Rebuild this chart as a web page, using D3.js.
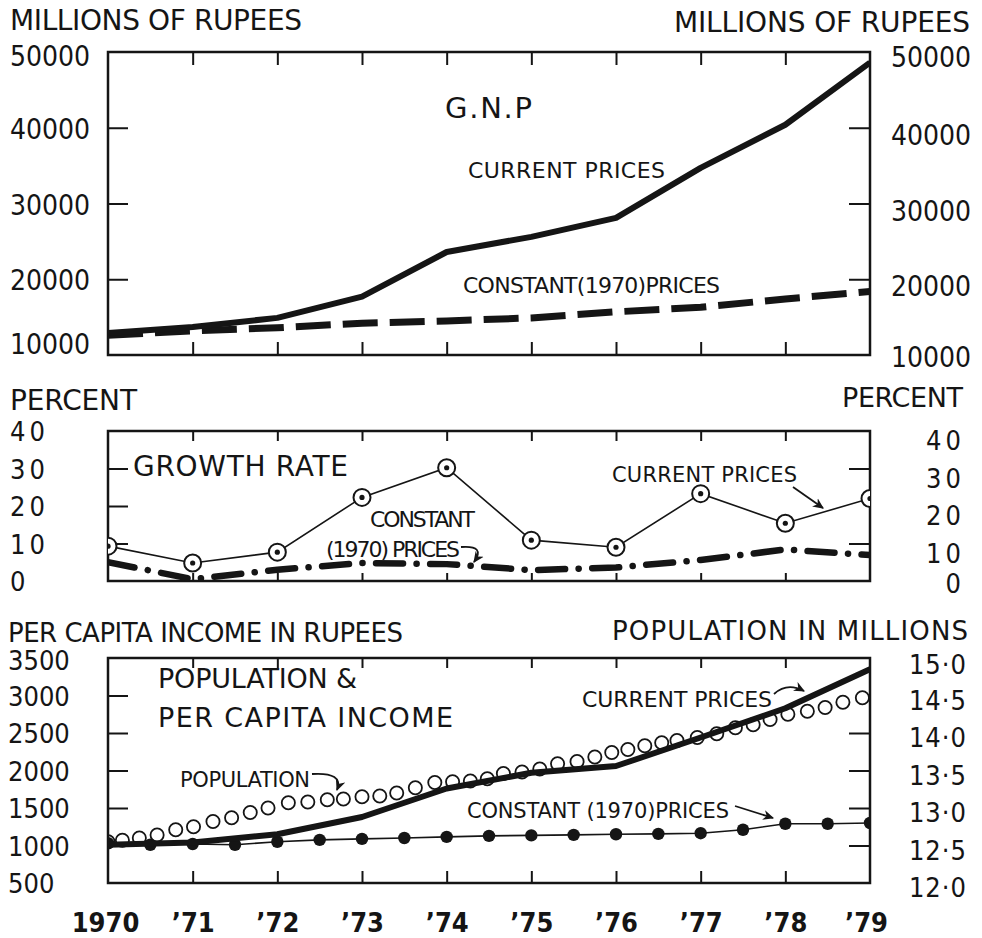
<!DOCTYPE html>
<html>
<head>
<meta charset="utf-8">
<script src="https://cdn.jsdelivr.net/npm/d3@7"></script>
<style>
  body { margin: 0; background: #fff; }
  svg { display: block; font-family: "DejaVu Sans", sans-serif; }
  .num { font-family: "DejaVu Sans Condensed", "DejaVu Sans", sans-serif; font-stretch: condensed; }
</style>
</head>
<body>
<svg id="chart" width="982" height="938"></svg>
<script>
// ── data ────────────────────────────────────────────
const years = [1970, 1971, 1972, 1973, 1974, 1975, 1976, 1977, 1978, 1979];
const yearLabels = ['1970', '’71', '’72', '’73', '’74', '’75', '’76', '’77', '’78', '’79'];

// G.N.P, millions of rupees
const gnpCurrent  = [12900, 13700, 14900, 17700, 23600, 25600, 28100, 34700, 40400, 48600];
const gnpConstant = [12600, 13200, 13600, 14200, 14500, 14900, 15700, 16300, 17400, 18400];
const gnpTicks = [10000, 20000, 30000, 40000, 50000];

// growth rate, percent
const growthCurrent  = [9.3, 4.8, 7.7, 22.3, 30.2, 10.9, 9.0, 23.3, 15.4, 22.0];
const growthConstant = [5.0, 0.5, 3.0, 4.8, 4.5, 2.9, 3.6, 5.6, 8.4, 6.9];
const growthTicks = [0, 10, 20, 30, 40];

// per capita income, rupees
const incomeCurrent = [1010, 1040, 1150, 1380, 1760, 1970, 2060, 2440, 2830, 3350];
const halfYears = [1970, 1970.5, 1971, 1971.5, 1972, 1972.5, 1973, 1973.5, 1974, 1974.5,
                   1975, 1975.5, 1976, 1976.5, 1977, 1977.5, 1978, 1978.5, 1979];
const incomeConstant = [1030, 1010, 1020, 1010, 1050, 1075, 1088, 1100, 1115, 1128,
                        1135, 1142, 1150, 1155, 1164, 1210, 1290, 1290, 1300];
const incomeTicks = [500, 1000, 1500, 2000, 2500, 3000, 3500];

// population, millions
const popYears = [1970.00, 1970.17, 1970.37, 1970.58, 1970.80, 1971.01, 1971.24, 1971.46, 1971.68, 1971.89,
                  1972.13, 1972.36, 1972.59, 1972.78, 1973.00, 1973.21, 1973.41, 1973.63, 1973.86, 1974.07,
                  1974.28, 1974.48, 1974.67, 1974.89, 1975.10, 1975.31, 1975.54, 1975.75, 1975.95, 1976.14,
                  1976.34, 1976.54, 1976.72, 1976.96, 1977.19, 1977.41, 1977.62, 1977.82, 1978.03, 1978.26,
                  1978.47, 1978.68, 1978.91];
const popValues = [12.55, 12.57, 12.60, 12.64, 12.71, 12.75, 12.82, 12.87, 12.94, 13.00,
                   13.07, 13.08, 13.11, 13.12, 13.15, 13.16, 13.20, 13.27, 13.34, 13.35,
                   13.36, 13.39, 13.46, 13.48, 13.52, 13.59, 13.62, 13.68, 13.74, 13.78,
                   13.83, 13.87, 13.90, 13.94, 13.99, 14.07, 14.11, 14.18, 14.25, 14.29,
                   14.34, 14.41, 14.47];
const popTicks = [12.0, 12.5, 13.0, 13.5, 14.0, 14.5, 15.0];

// ── setup ────────────────────────────────────────────
const INK = '#151515';
const svg = d3.select('#chart');

const x = d3.scaleLinear().domain([1970, 1979]).range([108, 870]);
const yGnp = d3.scaleLinear().domain([10000, 50000]).range([355, 52]);
const yGrowth = d3.scaleLinear().domain([0, 40]).range([581, 431]);
const yInc = d3.scaleLinear().domain([500, 3500]).range([883, 658]);
const yPop = d3.scaleLinear().domain([12, 15]).range([883, 658]);

const defs = svg.append('defs');
defs.append('marker')
  .attr('id', 'arrow')
  .attr('viewBox', '0 0 10 10')
  .attr('refX', 9).attr('refY', 5)
  .attr('markerWidth', 11).attr('markerHeight', 11)
  .attr('markerUnits', 'userSpaceOnUse')
  .attr('orient', 'auto')
  .append('path')
  .attr('d', 'M0,0.5 L10,5 L0,9.5 L3,5 Z')
  .attr('fill', INK);

function txt(s, px, py, size, opts = {}) {
  const t = svg.append('text')
    .attr('x', px).attr('y', py)
    .attr('font-size', size)
    .attr('fill', INK)
    .attr('text-anchor', opts.anchor || 'start')
    .text(s);
  if (opts.len) t.attr('textLength', opts.len);
  if (opts.weight) t.attr('font-weight', opts.weight);
  if (opts.ls) t.attr('letter-spacing', opts.ls);
  return t;
}

// frame, inward ticks, clip for the marks
function panel(id, y, leftTicks, rightTicks, xTop, xBot) {
  const [y1, y0] = [y.range()[1], y.range()[0]];
  defs.append('clipPath').attr('id', id)
    .append('rect')
    .attr('x', x.range()[0]).attr('y', y1)
    .attr('width', x.range()[1] - x.range()[0]).attr('height', y0 - y1);

  const mid = years.slice(1, -1);
  const axes = [
    [d3.axisTop(x).tickValues(mid).tickSize(-xTop), `translate(0,${y1})`],
    [d3.axisBottom(x).tickValues(mid).tickSize(-xBot), `translate(0,${y0})`],
    [d3.axisLeft(y).tickValues(leftTicks).tickSize(-20), `translate(${x.range()[0]},0)`],
    [d3.axisRight(y).tickValues(rightTicks).tickSize(-21), `translate(${x.range()[1]},0)`],
  ];
  axes.forEach(([ax, tr]) => {
    const g = svg.append('g').attr('transform', tr).call(ax.tickFormat(''));
    g.select('.domain').remove();
    g.selectAll('line').attr('stroke', INK).attr('stroke-width', 2);
  });

  svg.append('rect')
    .attr('x', x.range()[0]).attr('y', y1)
    .attr('width', x.range()[1] - x.range()[0]).attr('height', y0 - y1)
    .attr('fill', 'none').attr('stroke', INK).attr('stroke-width', 2.5);

  return svg.append('g').attr('clip-path', `url(#${id})`);
}

// outer tick labels via d3 axes
function labels(axis, px, size, fmt, nudge, ls) {
  const g = svg.append('g')
    .attr('class', 'num')
    .attr('transform', `translate(${px},0)`)
    .call(axis.tickSize(0).tickPadding(0).tickFormat(fmt));
  g.attr('font-family', null).attr('font-size', size);
  g.select('.domain').remove();
  g.selectAll('text').attr('fill', INK)
    .attr('dy', null)
    .attr('y', d => nudge(d))
    .attr('dominant-baseline', 'central');
  if (ls) g.selectAll('text').attr('letter-spacing', ls);
  return g;
}

// ── G.N.P panel ──────────────────────────────────────
const gTop = panel('clipTop', yGnp, [20000, 30000, 40000], [20000, 30000, 40000], 13, 13);

gTop.append('path')
  .datum(gnpConstant)
  .attr('fill', 'none').attr('stroke', INK)
  .attr('stroke-width', 7).attr('stroke-dasharray', '35,12')
  .attr('d', d3.line().x((d, i) => x(years[i])).y(d => yGnp(d)));

gTop.append('path')
  .datum(gnpCurrent)
  .attr('fill', 'none').attr('stroke', INK)
  .attr('stroke-width', 6).attr('stroke-linejoin', 'round')
  .attr('d', d3.line().x((d, i) => x(years[i])).y(d => yGnp(d)));

txt('MILLIONS OF RUPEES', 10, 30, 28, { len: 292 });
txt('MILLIONS OF RUPEES', 970, 32, 28, { anchor: 'end', len: 296 });
labels(d3.axisRight(yGnp).tickValues(gnpTicks), 10, 28, d3.format('d'),
  d => d === 10000 ? -11 : d === 50000 ? 4 : 1);
labels(d3.axisLeft(yGnp).tickValues(gnpTicks), 971, 28, d3.format('d'),
  d => d === 50000 ? 5 : d === 10000 ? 2 : 7);

txt('G.N.P', 445, 118, 29, { len: 87 });
txt('CURRENT  PRICES', 468, 178, 22, { len: 197 });
txt('CONSTANT(1970)PRICES', 463, 293, 22, { len: 257 });

// ── growth rate panel ────────────────────────────────
const gMid = panel('clipMid', yGrowth, [10, 20, 30], [10, 30], 10, 8);

gMid.append('path')
  .datum(growthConstant)
  .attr('fill', 'none').attr('stroke', INK)
  .attr('stroke-width', 6.5).attr('stroke-linecap', 'round')
  .attr('stroke-dasharray', '27,13.5,0.1,13.5')
  .attr('d', d3.line().x((d, i) => x(years[i])).y(d => yGrowth(d)));

gMid.append('path')
  .datum(growthCurrent)
  .attr('fill', 'none').attr('stroke', INK).attr('stroke-width', 1.6)
  .attr('d', d3.line().x((d, i) => x(years[i])).y(d => yGrowth(d)));

gMid.selectAll('circle.ring')
  .data(growthCurrent)
  .join('circle')
  .attr('class', 'ring')
  .attr('cx', (d, i) => x(years[i])).attr('cy', d => yGrowth(d))
  .attr('r', 8.5).attr('fill', '#fff').attr('stroke', INK).attr('stroke-width', 2);

gMid.selectAll('circle.pip')
  .data(growthCurrent)
  .join('circle')
  .attr('class', 'pip')
  .attr('cx', (d, i) => x(years[i])).attr('cy', d => yGrowth(d))
  .attr('r', 2.6).attr('fill', INK);

txt('PERCENT', 10, 410, 28, { len: 127 });
txt('PERCENT', 963, 407, 27, { anchor: 'end', len: 121 });
labels(d3.axisRight(yGrowth).tickValues(growthTicks), 10, 27, d3.format('d'), d => 0, 4);
labels(d3.axisLeft(yGrowth).tickValues(growthTicks), 965, 27, d3.format('d'),
  d => d === 0 ? 2 : 9, 4);

txt('GROWTH RATE', 133, 476, 28, { len: 215 });
txt('CURRENT  PRICES', 612, 482, 21, { len: 185 });
txt('CONSTANT', 370, 527, 22, { len: 105 });
txt('(1970) PRICES', 326, 557, 22, { len: 134 });

svg.append('line')
  .attr('x1', 793).attr('y1', 487).attr('x2', 823).attr('y2', 508)
  .attr('stroke', INK).attr('stroke-width', 1.8).attr('marker-end', 'url(#arrow)');
svg.append('path')
  .attr('d', 'M461,547 Q486,545 474,562')
  .attr('fill', 'none').attr('stroke', INK).attr('stroke-width', 1.8)
  .attr('marker-end', 'url(#arrow)');

// ── population & per capita panel ────────────────────
const gBot = panel('clipBot', yInc, [1500, 2000, 2500, 3000], [12.5, 13.0, 13.5, 14.0].map(v => yInc.invert(yPop(v))), 10, 12);

gBot.append('path')
  .datum(incomeConstant)
  .attr('fill', 'none').attr('stroke', INK).attr('stroke-width', 1.6)
  .attr('d', d3.line().x((d, i) => x(halfYears[i])).y(d => yInc(d)));

gBot.selectAll('circle.dot')
  .data(incomeConstant)
  .join('circle')
  .attr('class', 'dot')
  .attr('cx', (d, i) => x(halfYears[i])).attr('cy', d => yInc(d))
  .attr('r', 6.2).attr('fill', INK);

gBot.selectAll('circle.pop')
  .data(popValues)
  .join('circle')
  .attr('class', 'pop')
  .attr('cx', (d, i) => x(popYears[i])).attr('cy', d => yPop(d))
  .attr('r', 6.6).attr('fill', 'none').attr('stroke', INK).attr('stroke-width', 1.8);

gBot.append('path')
  .datum(incomeCurrent)
  .attr('fill', 'none').attr('stroke', INK)
  .attr('stroke-width', 6).attr('stroke-linejoin', 'round')
  .attr('d', d3.line().x((d, i) => x(years[i])).y(d => yInc(d)));

txt('PER CAPITA INCOME IN RUPEES', 8, 642, 26, { len: 395 });
txt('POPULATION  IN  MILLIONS', 968, 640, 26, { anchor: 'end', len: 356 });
labels(d3.axisRight(yInc).tickValues(incomeTicks), 8, 27, d3.format('d'),
  d => d === 3500 ? 2 : 0);
labels(d3.axisLeft(yPop).tickValues(popTicks), 967, 27,
  d => d3.format('.1f')(d).replace('.', '·'), d => d === 15 ? 6 : 4, 1);

// year labels under the bottom panel
const xl = svg.append('g')
  .attr('class', 'num')
  .attr('transform', 'translate(0,922)')
  .call(d3.axisBottom(x).tickValues(years).tickSize(0).tickPadding(0)
    .tickFormat((d, i) => yearLabels[i]));
xl.attr('font-family', null).attr('font-size', 27).attr('font-weight', 'bold');
xl.select('.domain').remove();
xl.selectAll('text').attr('fill', INK).attr('dy', null).attr('y', 0)
  .attr('dominant-baseline', 'central')
  .attr('dx', d => d === 1970 ? -3 : d === 1979 ? -4 : 0);

txt('POPULATION &', 158, 688, 27, { len: 199 });
txt('PER CAPITA  INCOME', 158, 727, 27, { len: 295 });
txt('POPULATION', 180, 787, 21, { len: 130 });
txt('CURRENT  PRICES', 582, 707, 22, { len: 190 });
txt('CONSTANT (1970)PRICES', 467, 818, 21, { len: 262 });

svg.append('path')
  .attr('d', 'M312,774 Q344,772 337,790')
  .attr('fill', 'none').attr('stroke', INK).attr('stroke-width', 1.8)
  .attr('marker-end', 'url(#arrow)');
svg.append('path')
  .attr('d', 'M774,694 Q787,682 804,691')
  .attr('fill', 'none').attr('stroke', INK).attr('stroke-width', 1.8)
  .attr('marker-end', 'url(#arrow)');
svg.append('line')
  .attr('x1', 735).attr('y1', 806).attr('x2', 773).attr('y2', 818)
  .attr('stroke', INK).attr('stroke-width', 1.8).attr('marker-end', 'url(#arrow)');
</script>
</body>
</html>
